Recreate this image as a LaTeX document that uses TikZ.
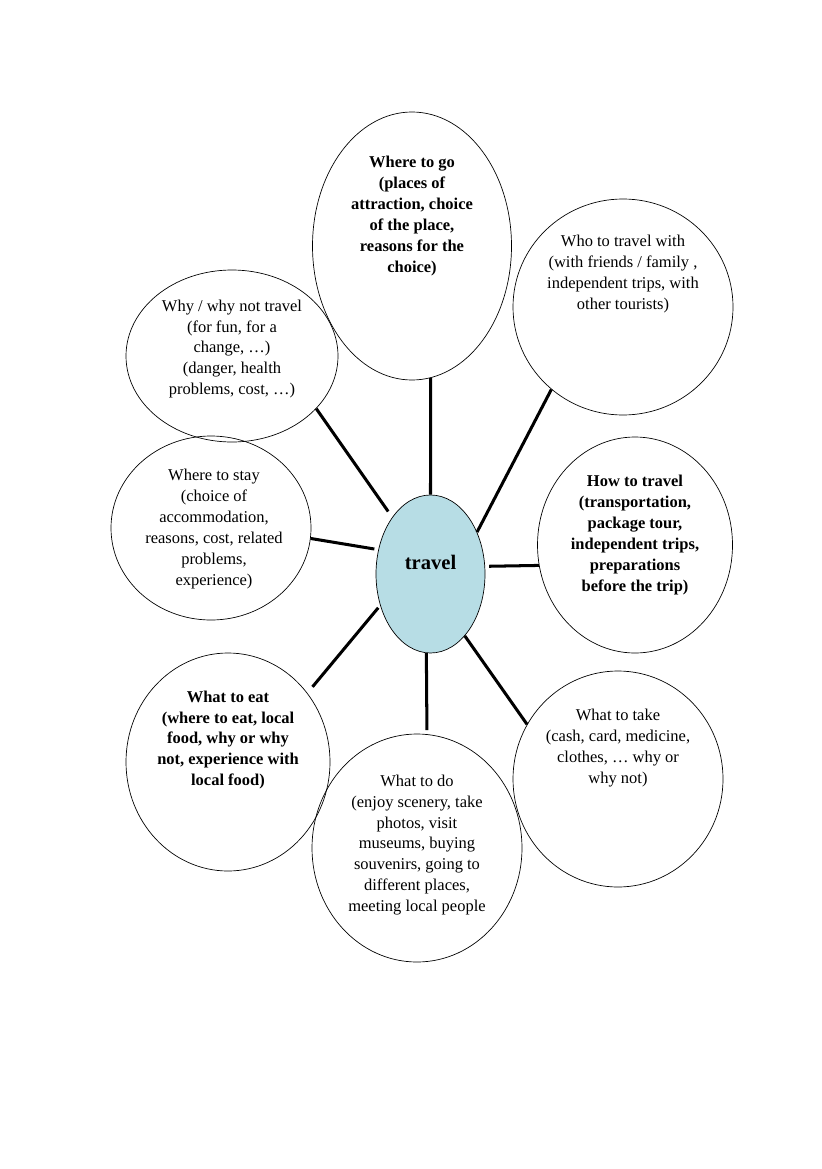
\documentclass[tikz,border=0pt]{standalone}
\usepackage{fontspec}
\setmainfont{Liberation Serif}
\usetikzlibrary{positioning, shapes.geometric}
\definecolor{hub}{RGB}{183,221,229}
\newlength\pxu
\setlength\pxu{0.25579mm}

\begin{document}
\begin{tikzpicture}[x=0.25579mm, y=-0.25579mm,
    bubble/.style={draw, ellipse, line width=0.5pt, inner sep=0pt},
    txt/.style={align=center, font={\fontsize{12}{15.2}\selectfont}},
    txtb/.style={align=center, font={\fontsize{12}{15.2}\selectfont\bfseries}},
    link/.style={line width=2.2pt}]
    \useasboundingbox (0,0) rectangle (821,1169);

    % Centre
    \node[bubble, fill=hub, minimum width=109\pxu, minimum height=158\pxu] (travel) at (430.5,574) {};
    \node[font={\fontsize{15}{18}\selectfont\bfseries}] (travel-t) at (430.5,562) {travel};

    % Where to go
    \node[bubble, minimum width=199\pxu, minimum height=268\pxu] (go) at (412,246) {};
    \node[txtb] (go-t) at (412,216) {Where to go\\(places of\\attraction, choice\\of the place,\\reasons for the\\choice)};

    % Who to travel with
    \node[bubble, minimum width=220\pxu, minimum height=216\pxu] (who) at (623,307) {};
    \node[txt] (who-t) at (623,274) {Who to travel with\\(with friends / family ,\\independent trips, with\\other tourists)};

    % Why / why not
    \node[bubble, minimum width=212\pxu, minimum height=172\pxu] (why) at (232,356) {};
    \node[txt] (why-t) at (232,349) {Why / why not travel\\(for fun, for a\\change, \ldots)\\(danger, health\\problems, cost, \ldots)};

    % Where to stay
    \node[bubble, minimum width=200\pxu, minimum height=184\pxu] (stay) at (211,528) {};
    \node[txt] (stay-t) at (214,529) {Where to stay\\(choice of\\accommodation,\\reasons, cost, related\\problems,\\experience)};

    % How to travel
    \node[bubble, minimum width=195\pxu, minimum height=216\pxu] (how) at (635,545) {};
    \node[txtb] (how-t) at (635,535) {How to travel\\(transportation,\\package tour,\\independent trips,\\preparations\\before the trip)};

    % What to eat
    \node[bubble, minimum width=204\pxu, minimum height=218\pxu] (eat) at (228,762) {};
    \node[txtb] (eat-t) at (228,740) {What to eat\\(where to eat, local\\food, why or why\\not, experience with\\local food)};

    % What to do
    \node[bubble, minimum width=210\pxu, minimum height=228\pxu] (do) at (417,848) {};
    \node[txt] (do-t) at (417,845) {What to do\\(enjoy scenery, take\\photos, visit\\museums, buying\\souvenirs, going to\\different places,\\meeting local people};

    % What to take
    \node[bubble, minimum width=210\pxu, minimum height=216\pxu] (take) at (618,779) {};
    \node[txt] (take-t) at (618,748) {What to take\\(cash, card, medicine,\\clothes, \ldots\ why or\\why not)};

    % spokes
    \draw[link] (go.-82) -- (travel.north);
    \draw[link] (who.229.7) -- (travel.42.4);
    \draw[link, shorten >=7\pxu] (why.-32.6) -- (travel.124.3);
    \draw[link, shorten >=4\pxu] (stay.-6.7) -- (travel.155.7);
    \draw[link, shorten >=4\pxu] (how.192.2) -- (travel.8.3);
    \draw[link, shorten <=8\pxu, shorten >=3\pxu] (eat.41) -- (travel.212.9);
    \draw[link, shorten <=4\pxu] (do.85.5) -- (travel.-93);
    \draw[link] (take.149) -- (travel.-61.3);
\end{tikzpicture}
\end{document}
